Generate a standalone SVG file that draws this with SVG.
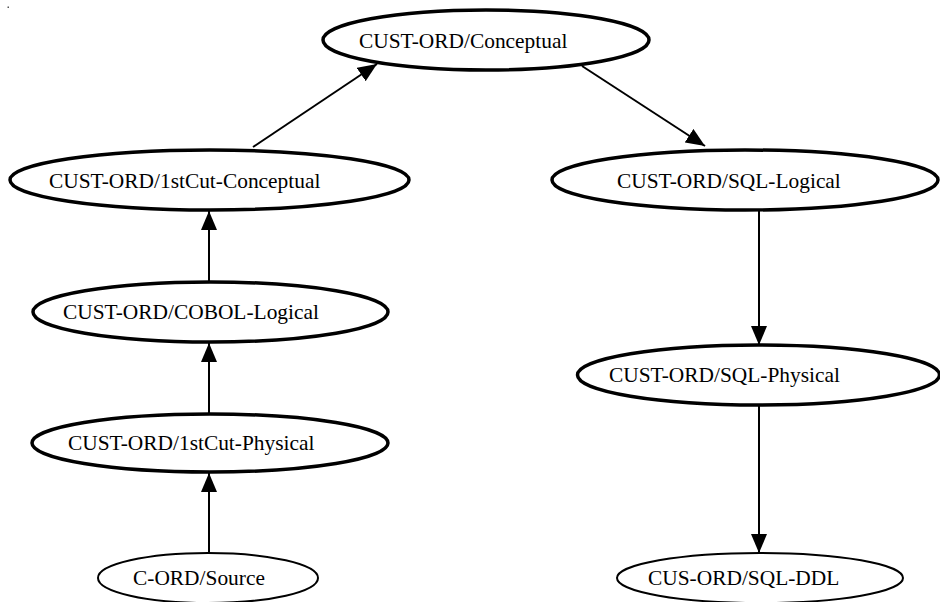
<svg xmlns="http://www.w3.org/2000/svg" width="940" height="602" viewBox="0 0 940 602">
  <style>
    .node ellipse { fill: #ffffff; stroke: #000000; stroke-width: 3.5; }
    .node.thin ellipse { stroke-width: 2; }
    .node text { font-family: 'Liberation Serif', 'DejaVu Serif', serif; font-size: 21.4px; fill: #000000; }
    .edge line { stroke: #000000; stroke-width: 2; }
  </style>
  <defs>
    <marker id="arrow" viewBox="0 0 19 16" refX="19" refY="8" markerWidth="19" markerHeight="16" markerUnits="userSpaceOnUse" orient="auto">
      <path d="M0,0 L19,8 L0,16 Z" fill="#000000"/>
    </marker>
  </defs>
  <rect width="940" height="602" fill="#ffffff"/>
  <rect x="7.5" y="6.5" width="1.5" height="1.5" fill="#555555"/>

  <g id="connectors" class="edge">
    <line x1="253" y1="147" x2="377" y2="64" marker-end="url(#arrow)"/>
    <line x1="582" y1="66" x2="705" y2="146" marker-end="url(#arrow)"/>
    <line x1="209" y1="282" x2="209" y2="211" marker-end="url(#arrow)"/>
    <line x1="209" y1="414" x2="209" y2="343" marker-end="url(#arrow)"/>
    <line x1="209" y1="553" x2="209" y2="473" marker-end="url(#arrow)"/>
    <line x1="759" y1="209" x2="759" y2="345" marker-end="url(#arrow)"/>
    <line x1="759" y1="405" x2="759" y2="553" marker-end="url(#arrow)"/>
  </g>

  <g font-family="Liberation Serif, DejaVu Serif, serif">
    <g id="n-conceptual" class="node">
      <ellipse cx="486" cy="40" rx="163" ry="30"/>
      <text x="359" y="48">CUST-ORD/Conceptual</text>
    </g>
    <g id="n-1stcut-conceptual" class="node">
      <ellipse cx="209.5" cy="180" rx="199.5" ry="30"/>
      <text x="49" y="188">CUST-ORD/1stCut-Conceptual</text>
    </g>
    <g id="n-sql-logical" class="node">
      <ellipse cx="745" cy="180" rx="193" ry="30"/>
      <text x="617" y="188">CUST-ORD/SQL-Logical</text>
    </g>
    <g id="n-cobol-logical" class="node">
      <ellipse cx="210.5" cy="312" rx="177.5" ry="30"/>
      <text x="63" y="319">CUST-ORD/COBOL-Logical</text>
    </g>
    <g id="n-sql-physical" class="node">
      <ellipse cx="758.5" cy="375" rx="181" ry="30"/>
      <text x="609" y="382">CUST-ORD/SQL-Physical</text>
    </g>
    <g id="n-1stcut-physical" class="node">
      <ellipse cx="210" cy="443" rx="178" ry="29"/>
      <text x="68" y="450">CUST-ORD/1stCut-Physical</text>
    </g>
    <g id="n-source" class="node thin">
      <ellipse cx="208" cy="578" rx="110" ry="25"/>
      <text x="133" y="585">C-ORD/Source</text>
    </g>
    <g id="n-sql-ddl" class="node thin">
      <ellipse cx="760" cy="578" rx="143" ry="25"/>
      <text x="648" y="585">CUS-ORD/SQL-DDL</text>
    </g>
  </g>
</svg>
